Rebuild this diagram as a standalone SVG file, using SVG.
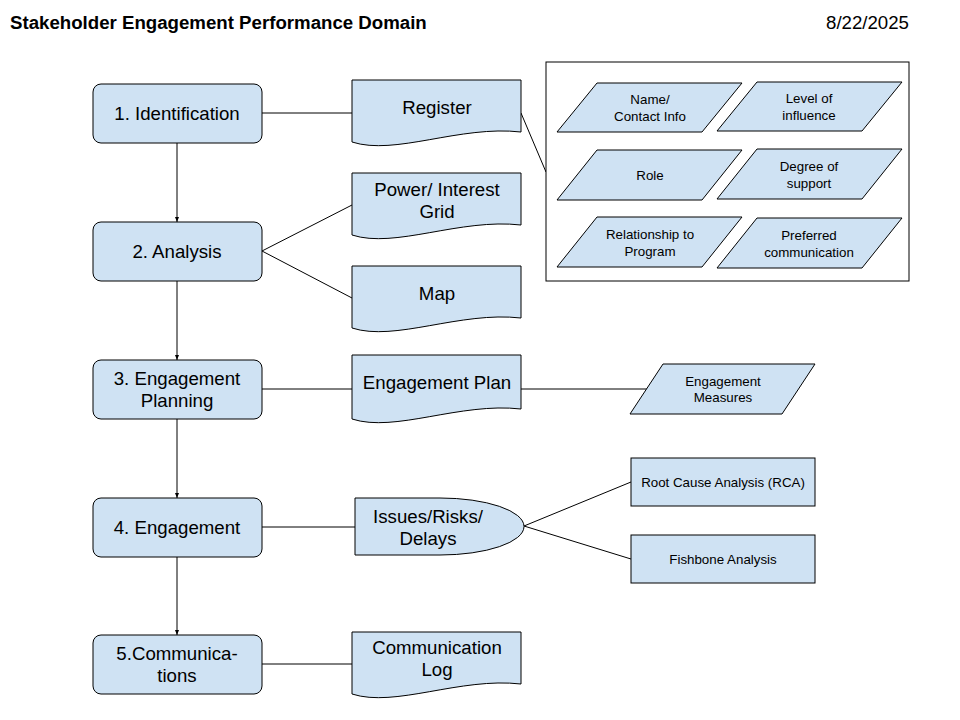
<svg xmlns="http://www.w3.org/2000/svg" width="960" height="720" viewBox="0 0 960 720">
<defs>
<style>
.s{fill:#cfe2f3;stroke:#000;stroke-width:1}
.c{fill:none;stroke:#000;stroke-width:1}
text{font-family:"Liberation Sans",Arial,sans-serif;fill:#000;text-anchor:middle}
.l{font-size:18.67px}
.m{font-size:13.33px}
</style>
<marker id="ah" viewBox="0 0 10 10" refX="10" refY="5" markerWidth="5" markerHeight="5" orient="auto" markerUnits="userSpaceOnUse">
<path d="M0,1 L10,5 L0,9 Z" fill="#000"/>
</marker>
</defs>
<rect width="960" height="720" fill="#fff"/>
<text x="10" y="29" style="font-size:18.67px;font-weight:bold;text-anchor:start">Stakeholder Engagement Performance Domain</text>
<text x="909" y="29" style="font-size:18.67px;text-anchor:end">8/22/2025</text>

<g id="connectors">
<line class="c" x1="177" y1="143" x2="177" y2="222" marker-end="url(#ah)"/>
<line class="c" x1="177" y1="281" x2="177" y2="360" marker-end="url(#ah)"/>
<line class="c" x1="177" y1="419" x2="177" y2="498" marker-end="url(#ah)"/>
<line class="c" x1="177" y1="557" x2="177" y2="635" marker-end="url(#ah)"/>
<line class="c" x1="262" y1="113" x2="352" y2="113"/>
<line class="c" x1="521" y1="113" x2="546" y2="172"/>
<line class="c" x1="262" y1="251" x2="352" y2="205"/>
<line class="c" x1="262" y1="251" x2="352" y2="298"/>
<line class="c" x1="262" y1="389" x2="352" y2="389"/>
<line class="c" x1="521" y1="389" x2="647" y2="389"/>
<line class="c" x1="262" y1="527" x2="355" y2="527"/>
<line class="c" x1="524" y1="526" x2="631" y2="482"/>
<line class="c" x1="524" y1="526" x2="631" y2="559"/>
<line class="c" x1="262" y1="664" x2="352" y2="664"/>
</g>

<g id="step1"><rect class="s" x="93" y="84" width="169" height="59" rx="8"/><text class="l" x="177" y="120">1. Identification</text></g>
<g id="step2"><rect class="s" x="93" y="222" width="169" height="59" rx="8"/><text class="l" x="177" y="258">2. Analysis</text></g>
<g id="step3"><rect class="s" x="93" y="360" width="169" height="59" rx="8"/><text class="l" x="177" y="385">3. Engagement</text><text class="l" x="177" y="407">Planning</text></g>
<g id="step4"><rect class="s" x="93" y="498" width="169" height="59" rx="8"/><text class="l" x="177" y="534">4. Engagement</text></g>
<g id="step5"><rect class="s" x="93" y="635" width="169" height="59" rx="8"/><text class="l" x="177" y="660">5.Communica-</text><text class="l" x="177" y="682">tions</text></g>

<g id="register"><path class="s" d="M352,80 H521 V132 C460,125 395,156 352,142 Z"/><text class="l" x="437" y="114">Register</text></g>
<g id="power-grid"><path class="s" d="M352,173 H521 V225 C460,218 395,249 352,235 Z"/><text class="l" x="437" y="196">Power/ Interest</text><text class="l" x="437" y="218">Grid</text></g>
<g id="map"><path class="s" d="M352,266 H521 V318 C460,311 395,342 352,328 Z"/><text class="l" x="437" y="300">Map</text></g>
<g id="engagement-plan"><path class="s" d="M352,355 H521 V409 C460,402 395,433 352,419 Z"/><text class="l" x="437" y="389">Engagement Plan</text></g>
<g id="issues"><path class="s" d="M355,498 H440 A84,28.5 0 0 1 524,526.5 A84,28.5 0 0 1 440,555 H355 Z"/><text class="l" x="428" y="523">Issues/Risks/</text><text class="l" x="428" y="545">Delays</text></g>
<g id="communication-log"><path class="s" d="M352,632 H521 V684 C460,677 395,708 352,694 Z"/><text class="l" x="437" y="654">Communication</text><text class="l" x="437" y="676">Log</text></g>

<g id="register-details">
<rect x="546" y="62" width="363" height="219" fill="#fff" stroke="#000" stroke-width="1"/>
</g>
<g id="name-contact"><polygon class="s" points="597,83 742,83 702,132 557,132"/><text class="m" x="650" y="104">Name/</text><text class="m" x="650" y="121">Contact Info</text></g>
<g id="level-influence"><polygon class="s" points="757,82 902,82 862,131 717,131"/><text class="m" x="809" y="103">Level of</text><text class="m" x="809" y="120">influence</text></g>
<g id="role"><polygon class="s" points="597,150 742,150 702,200 557,200"/><text class="m" x="650" y="180">Role</text></g>
<g id="degree-support"><polygon class="s" points="757,149 902,149 862,199 717,199"/><text class="m" x="809" y="171">Degree of</text><text class="m" x="809" y="188">support</text></g>
<g id="relationship"><polygon class="s" points="597,217 742,217 702,267 557,267"/><text class="m" x="650" y="239">Relationship to</text><text class="m" x="650" y="256">Program</text></g>
<g id="preferred-comm"><polygon class="s" points="757,218 902,218 862,268 717,268"/><text class="m" x="809" y="240">Preferred</text><text class="m" x="809" y="257">communication</text></g>

<g id="engagement-measures"><polygon class="s" points="663,364 815,364 782,414 630,414"/><text class="m" x="723" y="386">Engagement</text><text class="m" x="723" y="402">Measures</text></g>
<g id="rca"><rect class="s" x="631" y="458" width="184" height="48"/><text class="m" x="723" y="487">Root Cause Analysis (RCA)</text></g>
<g id="fishbone"><rect class="s" x="631" y="535" width="184" height="48"/><text class="m" x="723" y="564">Fishbone Analysis</text></g>
</svg>
